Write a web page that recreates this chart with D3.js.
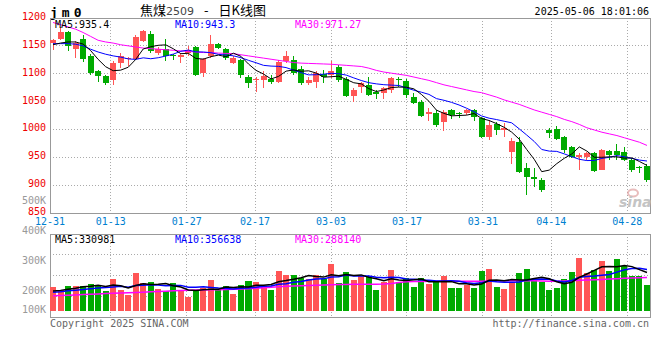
<!DOCTYPE html>
<html>
<head>
<meta charset="utf-8">
<script src="https://cdn.jsdelivr.net/npm/d3@7"></script>
<style>
    body { margin: 0; background: #fff; }
    text { font-family: "DejaVu Sans Mono", monospace; font-size: 10px; }
</style>
</head>
<body>
<svg id="chart" width="660" height="360"></svg>
<script>
// trading days shown on the chart
const dates = [
    "12-31", "01-02", "01-03", "01-06", "01-07", "01-08", "01-09", "01-10", "01-13", "01-14",
    "01-15", "01-16", "01-17", "01-20", "01-21", "01-22", "01-23", "01-24", "01-27", "02-05",
    "02-06", "02-07", "02-10", "02-11", "02-12", "02-13", "02-14", "02-17", "02-18", "02-19",
    "02-20", "02-21", "02-24", "02-25", "02-26", "02-27", "02-28", "03-03", "03-04", "03-05",
    "03-06", "03-07", "03-10", "03-11", "03-12", "03-13", "03-14", "03-17", "03-18", "03-19",
    "03-20", "03-21", "03-24", "03-25", "03-26", "03-27", "03-28", "03-31", "04-01", "04-02",
    "04-03", "04-07", "04-08", "04-09", "04-10", "04-11", "04-14", "04-15", "04-16", "04-17",
    "04-18", "04-21", "04-22", "04-23", "04-24", "04-25", "04-28", "04-29", "04-30", "05-06"
];

const openP = [
    1155, 1162, 1175, 1144, 1163, 1132, 1104, 1096, 1089, 1119,
    1127, 1126, 1159, 1172, 1137, 1144, 1133, 1130, 1137, 1148,
    1102, 1131, 1153, 1144, 1120, 1124, 1095, 1089, 1088, 1090,
    1086, 1122, 1124, 1108, 1084, 1086, 1099, 1098, 1112, 1090,
    1060, 1076, 1080, 1068, 1065, 1071, 1091, 1087, 1059, 1050,
    1027, 1030, 1014, 1035, 1029, 1029, 1034, 1021, 987, 1010,
    999, 960, 978, 930, 914, 909, 999, 1000, 987, 969,
    950, 950, 957, 928, 962, 962, 960, 946, 933, 934
];
const highP = [
    1162, 1183, 1177, 1158, 1169, 1135, 1107, 1098, 1122, 1137,
    1130, 1169, 1178, 1176, 1148, 1163, 1136, 1137, 1149, 1150,
    1128, 1169, 1155, 1146, 1131, 1126, 1098, 1094, 1104, 1098,
    1125, 1140, 1132, 1113, 1095, 1104, 1107, 1123, 1116, 1094,
    1074, 1086, 1094, 1071, 1077, 1095, 1094, 1090, 1065, 1053,
    1038, 1035, 1035, 1036, 1032, 1036, 1036, 1023, 1017, 1014,
    1011, 984, 987, 939, 930, 912, 1002, 1006, 988, 970,
    957, 960, 960, 964, 963, 974, 968, 948, 934, 938
];
const lowP = [
    1143, 1160, 1140, 1128, 1121, 1098, 1086, 1080, 1080, 1110,
    1113, 1124, 1157, 1137, 1134, 1123, 1125, 1119, 1131, 1096,
    1095, 1128, 1145, 1125, 1117, 1092, 1075, 1068, 1074, 1081,
    1083, 1119, 1098, 1080, 1080, 1075, 1083, 1092, 1086, 1059,
    1050, 1065, 1060, 1055, 1055, 1065, 1077, 1056, 1046, 1022,
    1015, 1004, 998, 1018, 1020, 1026, 1016, 984, 981, 990,
    987, 938, 921, 882, 896, 887, 984, 981, 957, 948,
    927, 945, 924, 927, 945, 945, 944, 924, 921, 905
];
const closeP = [
    1160, 1175, 1149, 1156, 1126, 1102, 1096, 1083, 1120, 1131,
    1128, 1166, 1177, 1140, 1144, 1132, 1131, 1133, 1143, 1098,
    1126, 1153, 1147, 1129, 1129, 1098, 1084, 1090, 1096, 1085,
    1121, 1131, 1101, 1084, 1089, 1101, 1094, 1105, 1089, 1060,
    1071, 1084, 1062, 1063, 1074, 1093, 1088, 1061, 1048, 1024,
    1032, 1008, 1032, 1026, 1027, 1035, 1023, 987, 1008, 999,
    1002, 980, 924, 915, 911, 891, 994, 982, 963, 950,
    954, 957, 926, 963, 954, 954, 945, 928, 931, 909
];

// price moving averages
const ma5 = [
    1152, 1155, 1157, 1157, 1153.2, 1141.6, 1125.8, 1112.6, 1105.4, 1106.4,
    1111.6, 1125.6, 1144.4, 1148.4, 1151, 1151.8, 1144.8, 1136, 1136.6, 1127.4,
    1126.2, 1130.6, 1133.4, 1130.6, 1136.8, 1131.2, 1117.4, 1106, 1099.4, 1090.6,
    1095.2, 1104.6, 1106.8, 1104.4, 1105.2, 1101.2, 1093.8, 1094.6, 1095.6, 1089.8,
    1083.8, 1081.8, 1073.2, 1068, 1070.8, 1075.2, 1076, 1075.8, 1072.8, 1062.8,
    1050.6, 1034.6, 1028.8, 1024.4, 1025, 1025.6, 1028.6, 1019.6, 1016, 1010.4,
    1003.8, 995.2, 982.6, 964, 946.4, 924.2, 927, 938.6, 948.2, 956,
    968.6, 961.2, 950, 950, 950.8, 950.8, 948.4, 948.8, 942.4, 935.4
];
const ma10 = [
    1154, 1154, 1154, 1153, 1150, 1144, 1139, 1135, 1132, 1129.8,
    1126.6, 1125.7, 1128.5, 1126.9, 1128.7, 1131.7, 1135.2, 1140.2, 1142.5, 1139.2,
    1139, 1137.7, 1134.7, 1133.6, 1132.1, 1128.7, 1124, 1119.7, 1115, 1113.7,
    1113.2, 1111, 1106.4, 1101.9, 1097.9, 1098.2, 1099.2, 1100.7, 1100, 1097.5,
    1092.5, 1087.8, 1083.9, 1081.8, 1080.3, 1079.5, 1078.9, 1074.5, 1070.4, 1066.8,
    1062.9, 1055.3, 1052.3, 1048.6, 1043.9, 1038.1, 1031.6, 1024.2, 1020.2, 1017.7,
    1014.7, 1011.9, 1001.1, 990, 978.4, 964, 961.1, 960.6, 956.1, 951.2,
    946.4, 944.1, 944.3, 948, 950, 953, 951, 948, 945, 943.3
];
const ma30 = [
    1192, 1188, 1184, 1180, 1174, 1167, 1160, 1157, 1155, 1152,
    1150, 1148, 1146, 1145, 1144, 1143, 1142, 1141, 1140, 1139,
    1138, 1138, 1137, 1136.5, 1136, 1134, 1132, 1130, 1128, 1126,
    1124, 1122, 1120, 1119, 1118.5, 1118, 1117.5, 1117, 1116, 1115,
    1114, 1113, 1110, 1106, 1103, 1101, 1099, 1097, 1094, 1091,
    1088, 1084, 1080, 1077, 1074, 1071, 1068, 1066, 1062, 1058,
    1053, 1049, 1045, 1040, 1035, 1031, 1027, 1023, 1018, 1014,
    1009, 1003, 999, 995, 992, 989, 985, 981, 977, 971.27
];

// volume, thousand lots
const volume = [
    208, 179, 216, 216, 216, 233, 216, 168, 277, 182,
    138, 328, 240, 248, 188, 168, 240, 182, 121, 168,
    193, 268, 179, 216, 148, 225, 260, 251, 216, 182,
    347, 307, 307, 286, 277, 307, 277, 407, 242, 335,
    266, 300, 300, 179, 248, 352, 248, 283, 205, 283,
    231, 248, 300, 196, 196, 223, 196, 344, 361, 205,
    188, 248, 327, 361, 266, 248, 179, 196, 274, 335,
    456, 327, 352, 430, 344, 447, 387, 300, 300, 223
];
const volMa5 = [
    170, 176, 185, 195, 207, 212, 219.4, 209.8, 222, 215.2,
    196.2, 218.6, 233, 227.2, 228.4, 234.4, 216.8, 205.2, 179.8, 175.8,
    180.8, 186.4, 185.8, 204.8, 200.8, 207.2, 205.6, 220, 220, 226.8,
    251.2, 260.6, 271.8, 285.8, 304.8, 296.8, 290.8, 310.8, 302, 313.6,
    305.4, 310, 288.6, 276, 258.6, 275.8, 265.4, 262, 267.2, 274.2,
    250, 250, 253.4, 251.6, 234.2, 232.6, 222.2, 231, 264, 265.8,
    258.8, 269.2, 265.8, 265.8, 278, 290, 276.2, 250, 232.6, 246.4,
    288, 317.6, 348.8, 380, 381.8, 380, 392, 381.6, 355.6, 331
];
const volMa10 = [
    160, 165, 172, 178, 183, 190, 196, 200, 206, 211.1,
    204.1, 219, 221.4, 224.6, 221.8, 215.3, 217.7, 219.1, 203.5, 202.1,
    207.6, 201.6, 195.5, 192.3, 188.3, 194, 196, 202.9, 212.4, 213.8,
    229.2, 233.1, 245.9, 252.9, 265.8, 274, 275.7, 291.3, 293.9, 309.2,
    301.1, 300.4, 299.7, 289, 286.1, 290.6, 287.7, 275.3, 271.6, 266.4,
    262.9, 257.7, 257.7, 259.4, 254.2, 241.3, 236.1, 242.2, 257.8, 250,
    245.7, 245.7, 248.4, 264.9, 271.9, 274.4, 272.7, 257.9, 249.2, 262.2,
    289, 296.9, 299.4, 306.3, 314.1, 334, 354.8, 365.2, 367.8, 356.6
];
const volMa30 = [
    130, 132, 134, 137, 140, 142, 145, 148, 151, 154,
    156, 158, 160, 163, 166, 169, 172, 175, 177, 179,
    180, 181, 182, 184, 185, 188, 191, 194, 198, 203,
    208, 211, 214, 216, 219, 221, 223, 225, 226, 227,
    228, 229, 230, 230, 231, 236, 244, 250, 252, 253,
    254, 254, 254, 254, 254, 254, 255, 256, 257, 258,
    259, 260, 260, 260, 260, 258, 256, 256, 258, 260,
    263, 266, 268, 271, 274, 277, 280, 283, 285, 288
];

const priceTicks = [1200, 1150, 1100, 1050, 1000, 950, 900, 850];
const volumeTicks = [500, 400, 300, 200, 100];
const dateTicks = ["12-31", "01-13", "01-27", "02-17", "03-03", "03-17", "03-31", "04-14", "04-28"];

const priceMaNames = ["MA5", "MA10", "MA30"];
const priceMaValues = ["935.4", "943.3", "971.27"];
const volMaValues = ["330981", "356638", "288140"];
const maColors = ["#000", "#0000ff", "#ff00ff"];

const upColor = "#ff5555";
const downColor = "#00aa00";
const gridColor = "#aaa";
const frameColor = "#999";

function draw() {
    let svg = d3.select("#chart");
    let left = 50, right = 650;
    let mainTop = 18, mainBottom = 213;
    let volTop = 234, volBottom = 317;

    let x = d3.scaleBand().domain(dates).range([left, right]).paddingInner(0.2);
    let xGrid = d3.scalePoint().domain(dates).range([left, right]);
    let y = d3.scaleLinear().domain([850, 1200]).range([mainBottom, mainTop]);
    let yVol = d3.scaleLinear().domain([0, 700]).range([310.7, 229.85]);
    let yVolLabel = d3.scaleLinear().domain([0, 500]).range([350.7, 200.7]);
    let cx = d => x(d) + x.bandwidth() / 2;
    let candles = dates.map((d, i) => ({date: d, open: openP[i], high: highP[i], low: lowP[i], close: closeP[i], vol: volume[i]}));
    let colorOf = c => c.close >= c.open ? upColor : downColor;

    // header
    svg.append("text").attr("x", left).attr("y", 16.5)
        .style("font-size", "13px").style("font-weight", "bold").style("letter-spacing", "4px")
        .text("jm0");
    let title = svg.append("text").attr("x", 140).attr("y", 15)
        .style("font-family", "'Noto Sans CJK SC', sans-serif").style("font-size", "13px");
    title.append("tspan").text("焦煤");
    title.append("tspan").style("font-family", "'DejaVu Sans', sans-serif").style("font-size", "11px")
        .attr("fill", "#444").text("2509");
    title.append("tspan").attr("dx", 10).text("-");
    title.append("tspan").attr("dx", 10).text("日K线图");
    svg.append("text").attr("x", right - 1).attr("y", 15).attr("text-anchor", "end")
        .text("2025-05-06 18:01:06");

    // grids
    let gridG = svg.append("g").attr("stroke", gridColor).attr("stroke-dasharray", "1,2")
        .attr("shape-rendering", "crispEdges");
    gridG.selectAll(".hp").data(priceTicks.filter(p => p < 1200 && p > 850)).enter()
        .append("line").attr("x1", left).attr("x2", right)
        .attr("y1", p => y(p)).attr("y2", p => y(p));
    let volGrid = d3.range(1, 4).map(k => volTop + k * (volBottom - volTop) / 4);
    gridG.selectAll(".hv").data(volGrid).enter()
        .append("line").attr("x1", left).attr("x2", right)
        .attr("y1", v => v).attr("y2", v => v);
    let vTicks = dateTicks.slice(1);
    gridG.selectAll(".vm").data(vTicks).enter()
        .append("line").attr("x1", d => xGrid(d)).attr("x2", d => xGrid(d))
        .attr("y1", mainTop).attr("y2", mainBottom);
    gridG.selectAll(".vv").data(vTicks).enter()
        .append("line").attr("x1", d => xGrid(d)).attr("x2", d => xGrid(d))
        .attr("y1", volTop).attr("y2", volBottom);

    // frames
    svg.append("rect").attr("x", left).attr("y", mainTop).attr("width", right - left).attr("height", mainBottom - mainTop)
        .attr("fill", "none").attr("stroke", frameColor).attr("shape-rendering", "crispEdges");
    svg.append("rect").attr("x", left).attr("y", volTop).attr("width", right - left).attr("height", volBottom - volTop)
        .attr("fill", "none").attr("stroke", frameColor).attr("shape-rendering", "crispEdges");

    // watermark
    svg.append("ellipse").attr("cx", 633).attr("cy", 193).attr("rx", 5).attr("ry", 3.5)
        .attr("fill", "none").attr("stroke", "#e0a0a0").attr("stroke-width", 2).attr("opacity", 0.7);
    svg.append("text").attr("x", 619).attr("y", 207)
        .style("font-family", "'DejaVu Sans', sans-serif").style("font-size", "14px")
        .style("font-style", "italic").style("font-weight", "bold")
        .attr("fill", "#c4c4c4").text("sina");

    // price axis labels
    svg.selectAll(".pl").data(priceTicks).enter()
        .append("text").attr("x", left - 4).attr("y", p => y(p) + 2).attr("text-anchor", "end")
        .attr("fill", "#ee0000").text(p => p);

    // volume axis labels
    svg.selectAll(".vl").data(volumeTicks).enter()
        .append("text").attr("x", left - 4).attr("y", v => Math.min(yVolLabel(v), 309) + 3.5)
        .attr("text-anchor", "end").attr("fill", "#999").text(v => v + "K");

    // date labels
    svg.selectAll(".dl").data(dateTicks).enter()
        .append("text").attr("x", d => xGrid(d)).attr("y", 225).attr("text-anchor", "middle")
        .attr("fill", "#0080d0").text(d => d);

    // candles
    let cg = svg.append("g").attr("shape-rendering", "crispEdges");
    cg.selectAll("line").data(candles).enter()
        .append("line")
        .attr("x1", c => cx(c.date)).attr("x2", c => cx(c.date))
        .attr("y1", c => y(c.high)).attr("y2", c => y(c.low))
        .attr("stroke", colorOf);
    cg.selectAll("rect").data(candles).enter()
        .append("rect")
        .attr("x", c => x(c.date)).attr("width", x.bandwidth())
        .attr("y", c => y(Math.max(c.open, c.close)))
        .attr("height", c => Math.max(1, Math.abs(y(c.open) - y(c.close))))
        .attr("fill", colorOf);

    // volume bars
    svg.append("g").attr("shape-rendering", "crispEdges")
        .selectAll("rect").data(candles).enter()
        .append("rect")
        .attr("x", c => x(c.date)).attr("width", x.bandwidth())
        .attr("y", c => yVol(c.vol)).attr("height", c => yVol(0) - yVol(c.vol))
        .attr("fill", colorOf);

    // moving average lines
    let priceLine = d3.line().x((v, i) => cx(dates[i])).y(v => y(v));
    let volLine = d3.line().x((v, i) => cx(dates[i])).y(v => yVol(v));
    [ma30, ma10, ma5].forEach((s, k) => {
        svg.append("path").attr("d", priceLine(s)).attr("fill", "none")
            .attr("stroke", maColors[2 - k]).attr("stroke-width", 1);
    });
    [volMa30, volMa10, volMa5].forEach((s, k) => {
        svg.append("path").attr("d", volLine(s)).attr("fill", "none")
            .attr("stroke", maColors[2 - k]).attr("stroke-width", 1.5);
    });

    // MA legends
    svg.selectAll(".pm").data(priceMaNames).enter()
        .append("text").attr("x", (n, i) => left + 5 + i * 120).attr("y", 27.5)
        .attr("fill", (n, i) => maColors[i]).text((n, i) => n + ":" + priceMaValues[i]);
    svg.selectAll(".vm").data(priceMaNames).enter()
        .append("text").attr("x", (n, i) => left + 5 + i * 120).attr("y", 242.5)
        .attr("fill", (n, i) => maColors[i]).text((n, i) => n + ":" + volMaValues[i]);

    // footer
    svg.append("text").attr("x", left).attr("y", 327).attr("fill", "#666").text("Copyright 2025 SINA.COM");
    svg.append("text").attr("x", right - 1).attr("y", 327).attr("text-anchor", "end").attr("fill", "#666")
        .text("http://finance.sina.com.cn");
}

draw();
</script>
</body>
</html>
